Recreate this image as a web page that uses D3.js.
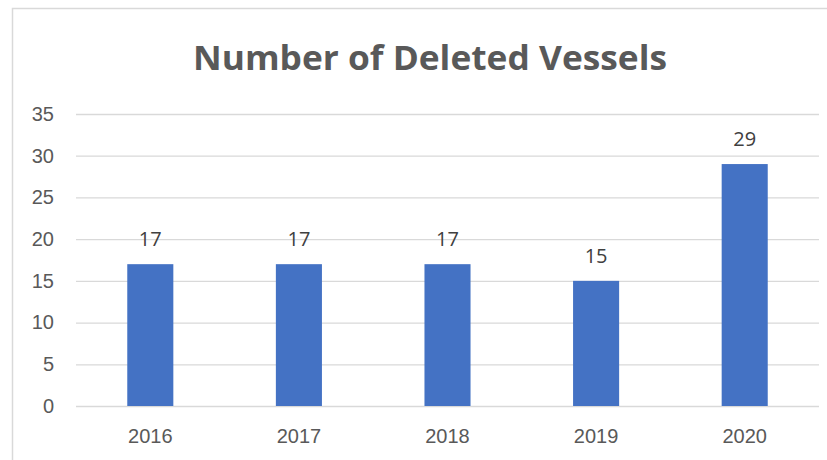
<!DOCTYPE html>
<html>
<head>
<meta charset="utf-8">
<script src="https://cdn.jsdelivr.net/npm/d3@7"></script>
<style>
  body { margin: 0; background: #fff; }
  svg { display: block; font-family: "Open Sans", "Noto Sans", sans-serif; }
</style>
</head>
<body>
<svg id="chart" width="827" height="460"></svg>
<script>
// chart data
const years = ['2016', '2017', '2018', '2019', '2020'];
const deleted = [17, 17, 17, 15, 29];
const yTicks = [0, 5, 10, 15, 20, 25, 30, 35];
const title = 'Number of Deleted Vessels';

const svg = d3.select('#chart');
const margin = { top: 114, right: 8, bottom: 54, left: 76 };
const width = 827 - margin.left - margin.right;
const height = 460 - margin.top - margin.bottom;

// outer chart border (only left and top show in the frame)
svg.append('rect')
  .attr('x', 12.5).attr('y', 8.5)
  .attr('width', 840).attr('height', 480)
  .attr('fill', 'none')
  .attr('stroke', '#d9d9d9')
  .attr('stroke-width', 1.5);

svg.append('text')
  .attr('x', 430).attr('y', 70)
  .attr('text-anchor', 'middle')
  .attr('font-size', 34)
  .attr('font-weight', 'bold')
  .attr('fill', '#595959')
  .attr('textLength', 474)
  .attr('lengthAdjust', 'spacingAndGlyphs')
  .text(title);

const g = svg.append('g')
  .attr('transform', `translate(${margin.left}, ${margin.top})`);

const x = d3.scaleBand()
  .domain(years)
  .range([0, width])
  .paddingInner(0.69)
  .paddingOuter(0.345);

const y = d3.scaleLinear()
  .domain([0, 35])
  .range([height, 0]);

// gridlines + y labels
const yAxis = g.append('g')
  .call(d3.axisLeft(y).tickValues(yTicks).tickSize(-width).tickPadding(22));
yAxis.select('.domain').remove();
yAxis.selectAll('.tick line').attr('stroke', '#d9d9d9').attr('stroke-width', 1.3);
yAxis.selectAll('.tick text')
  .attr('fill', '#595959')
  .attr('font-size', 20);

// x labels
const xAxis = g.append('g')
  .attr('transform', `translate(0, ${height})`)
  .call(d3.axisBottom(x).tickSize(0).tickPadding(23));
xAxis.select('.domain').remove();
xAxis.selectAll('.tick text')
  .attr('fill', '#595959')
  .attr('font-size', 20);

g.selectAll('.bar')
  .data(deleted)
  .enter().append('rect')
  .attr('class', 'bar')
  .attr('x', (d, i) => x(years[i]))
  .attr('y', d => y(d))
  .attr('width', x.bandwidth())
  .attr('height', d => height - y(d))
  .attr('fill', '#4472c4');

g.selectAll('.val')
  .data(deleted)
  .enter().append('text')
  .attr('class', 'val')
  .attr('x', (d, i) => x(years[i]) + x.bandwidth() / 2)
  .attr('y', d => y(d) - 18)
  .attr('text-anchor', 'middle')
  .attr('font-size', 20)
  .attr('fill', '#404040')
  .text(d => d);
</script>
</body>
</html>
